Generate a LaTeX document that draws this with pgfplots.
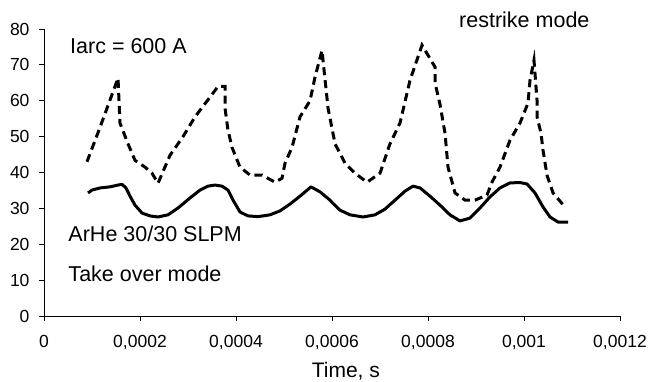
\documentclass[border=0pt]{standalone}
\usepackage{pgfplots}
\pgfplotsset{compat=1.18}
\usepackage{fontspec}
\setmainfont{Liberation Sans}
\begin{document}
\begin{tikzpicture}
\path[use as bounding box] (-44pt,-65pt) rectangle (604pt,316pt);
\begin{axis}[
  at={(0,0)}, anchor=south west,
  scale only axis, width=576pt, height=287pt,
  xmin=0, xmax=0.0012, ymin=0, ymax=80,
  axis lines=left, axis line style={-, line width=0.9pt},
  tick align=outside, major tick length=5pt,
  tick style={black, line width=0.9pt},
  xtick={0,0.0002,0.0004,0.0006,0.0008,0.001,0.0012},
  xticklabels={0,{0,0002},{0,0004},{0,0006},{0,0008},{0,001},{0,0012}},
  ytick={0,10,20,30,40,50,60,70,80},
  yticklabels={0,10,20,30,40,50,60,70,80},
  scaled x ticks=false,
  tick label style={font=\fontsize{17.5}{20}\selectfont},
  xticklabel style={yshift=-11pt},
  yticklabel style={xshift=-6pt},
  /pgf/number format/assume math mode=true,
  xlabel={Time, s},
  xlabel style={font=\fontsize{21}{24}\selectfont, at={(axis description cs:0.524,0)}, anchor=base, yshift=-61pt},
  clip=false,
]
\addplot[black, line width=3pt, line join=round] coordinates {
(0.0000917,34.3) (0.0001,35.1) (0.0001167,35.7) (0.0001375,36.0) (0.0001542,36.5) (0.0001625,36.7)
(0.0001708,35.7) (0.0001792,33.4) (0.0001896,30.9) (0.0002042,28.7) (0.0002208,27.9) (0.0002375,27.6)
(0.0002583,28.2) (0.0002792,30.1) (0.0003042,32.9) (0.000325,35.1) (0.0003417,36.2) (0.0003563,36.5)
(0.0003708,36.2) (0.0003833,35.1) (0.0003938,32.3) (0.0004083,29.0) (0.000425,27.9) (0.0004458,27.7)
(0.0004708,28.2) (0.0004917,29.3) (0.0005125,31.2) (0.0005333,33.4) (0.0005563,36.0) (0.000575,34.6)
(0.0005958,32.3) (0.0006167,29.5) (0.0006375,28.2) (0.0006646,27.6) (0.0006896,28.2) (0.0007104,29.8)
(0.0007313,32.3) (0.0007521,34.8) (0.0007688,36.2) (0.0007833,35.7) (0.0008042,33.4) (0.000825,30.9)
(0.0008458,28.2) (0.0008667,26.5) (0.0008875,27.3) (0.0009083,30.1) (0.0009292,33.2) (0.00095,35.7)
(0.0009708,37.1) (0.0009917,37.2) (0.0010063,36.8) (0.0010229,34.3) (0.0010396,30.4) (0.0010542,27.6)
(0.0010708,26.2) (0.0010917,26.2)
};
\addplot[black, line width=3pt, dash pattern=on 8pt off 5pt] coordinates {
(0.0000896,43.0) (0.0001167,52.6) (0.0001542,66.3) (0.0001583,53.8) (0.000175,48.0) (0.0001896,43.4)
(0.0002104,41.5) (0.000225,39.8) (0.0002375,37.0) (0.0002625,44.8) (0.0002896,50.0) (0.0003146,55.5)
(0.0003458,61.0) (0.0003625,64.0) (0.0003771,64.0) (0.0003771,58.0) (0.0003833,51.8) (0.0003917,47.0)
(0.0004083,41.5) (0.0004292,39.3) (0.0004542,39.3) (0.0004813,37.3) (0.0004958,38.4) (0.0005021,42.6)
(0.0005167,47.0) (0.0005333,55.5) (0.0005542,60.0) (0.0005646,66.6) (0.0005792,74.0) (0.0005917,58.0)
(0.0006063,48.0) (0.0006271,42.6) (0.0006479,39.8) (0.0006729,37.3) (0.0007,39.8) (0.0007208,48.0)
(0.0007417,53.8) (0.0007625,65.7) (0.0007875,75.5) (0.0008146,69.4) (0.0008146,65.0) (0.000825,59.0)
(0.0008354,51.0) (0.0008417,41.5) (0.0008563,34.3) (0.0008771,32.3) (0.0008979,32.3) (0.0009229,33.7)
(0.0009333,37.3) (0.00095,41.5) (0.0009708,49.0) (0.0009917,53.8) (0.0010083,59.3) (0.0010125,65.7)
(0.0010208,71.3) (0.0010271,60.2) (0.0010271,55.5) (0.0010354,51.0) (0.0010396,46.2) (0.0010479,39.3)
(0.0010604,34.3) (0.0010854,30.4)
};
\node[anchor=base west, font=\fontsize{21.5}{24}\selectfont, inner sep=0pt] at (axis cs:0.0000542,73.3) {Iarc = 600 A};
\node[anchor=base west, font=\fontsize{21.5}{24}\selectfont, inner sep=0pt] at (axis cs:0.0000506,20.7) {ArHe 30/30 SLPM};
\node[anchor=base west, font=\fontsize{21.5}{24}\selectfont, inner sep=0pt] at (axis cs:0.0000506,9.5) {Take over mode};
\node[anchor=base west, font=\fontsize{21.5}{24}\selectfont, inner sep=0pt] at (axis cs:0.0008646,80.5) {restrike mode};
\end{axis}
\end{tikzpicture}
\end{document}
